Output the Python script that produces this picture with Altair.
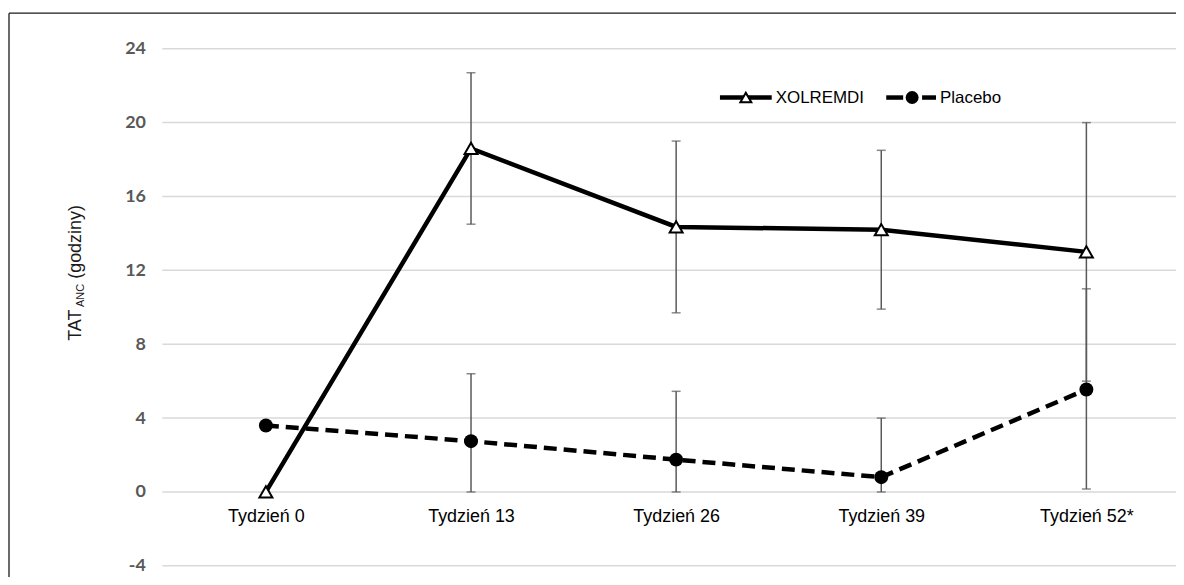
import altair as alt
import pandas as pd

weeks = ["Tydzień 0", "Tydzień 13", "Tydzień 26", "Tydzień 39", "Tydzień 52*"]
series = ["XOLREMDI", "Placebo"]
xol_mean = [0.0, 18.6, 14.35, 14.2, 13.0]
xol_lo = [None, 14.5, 9.7, 9.9, 6.0]
xol_hi = [None, 22.7, 19.0, 18.5, 20.0]
pla_mean = [3.6, 2.75, 1.75, 0.8, 5.55]
pla_lo = [None, 0.0, 0.0, 0.0, 0.16]
pla_hi = [None, 6.4, 5.45, 4.0, 11.0]
y_ticks = [-4, 0, 4, 8, 12, 16, 20, 24]

rows = []
for s, m, lo, hi in [(series[0], xol_mean, xol_lo, xol_hi),
                     (series[1], pla_mean, pla_lo, pla_hi)]:
    for w, v, l, h in zip(weeks, m, lo, hi):
        rows.append({"week": w, "series": s, "value": v, "lo": l, "hi": h})
df = pd.DataFrame(rows)
grid_df = pd.DataFrame({"value": y_ticks})

W = 1018
H = 519.3

x_scale = alt.Scale(type="point", range=[104, 928], padding=0)
x_axis = alt.Axis(title=None, orient="bottom", offset=-74.3, domain=False, ticks=False,
                  labelFontSize=18, labelFont="Liberation Sans", labelColor="#000000",
                  labelPadding=16, labelAngle=0, grid=False)
y_scale = alt.Scale(domain=[-4, 24], nice=False, zero=False)
y_axis = alt.Axis(title=None, values=y_ticks, domain=False, ticks=False,
                  labelFont="Lato", labelFontWeight="bold", labelFontSize=18,
                  labelColor="#595959", labelPadding=17, grid=False,
                  labelExpr="'' + datum.value")


def X():
    return alt.X("week:N", sort=weeks, scale=x_scale, axis=x_axis)


def Y(field):
    return alt.Y(field, type="quantitative", scale=y_scale, axis=y_axis)


grid = alt.Chart(grid_df).mark_rule(color="#d9d9d9", strokeWidth=1.5).encode(
    y=Y("value"), x=alt.value(0), x2=alt.value(W + 20))

base = alt.Chart(df)
with_err = base.transform_filter("isValid(datum.lo)")

err = with_err.mark_rule(color="#595959", strokeWidth=1.5).encode(
    x=X(), y=Y("lo"), y2=alt.Y2("hi"))
cap_lo = with_err.mark_tick(color="#595959", thickness=1.5, size=9, orient="horizontal").encode(
    x=X(), y=Y("lo"))
cap_hi = with_err.mark_tick(color="#595959", thickness=1.5, size=9, orient="horizontal").encode(
    x=X(), y=Y("hi"))

xol = base.transform_filter(alt.datum.series == series[0])
pla = base.transform_filter(alt.datum.series == series[1])

line_xol = xol.mark_line(color="black", strokeWidth=4.5).encode(x=X(), y=Y("value"))
line_pla = pla.mark_line(color="black", strokeWidth=4.5, strokeDash=[13, 7]).encode(
    x=X(), y=Y("value"))
pts_xol = xol.mark_point(shape="triangle-up", filled=True, fill="white", stroke="black",
                         strokeWidth=2, size=169, opacity=1).encode(x=X(), y=Y("value"))
pts_pla = pla.mark_point(shape="circle", filled=True, color="black", size=196,
                         opacity=1).encode(x=X(), y=Y("value"))

one = alt.Chart(pd.DataFrame({"k": [0]}))
leg_y = 49
leg = [
    one.mark_rule(color="black", strokeWidth=4.5).encode(
        x=alt.value(560), x2=alt.value(612), y=alt.value(leg_y)),
    one.mark_point(shape="triangle-up", filled=True, fill="white", stroke="black",
                   strokeWidth=2, size=121, opacity=1).encode(x=alt.value(586), y=alt.value(leg_y)),
    one.mark_text(text=series[0], align="left", baseline="middle", fontSize=17,
                  font="Liberation Sans", color="black").encode(x=alt.value(616), y=alt.value(leg_y)),
    one.mark_rule(color="black", strokeWidth=4.5).encode(
        x=alt.value(727), x2=alt.value(744), y=alt.value(leg_y)),
    one.mark_rule(color="black", strokeWidth=4.5).encode(
        x=alt.value(763), x2=alt.value(777), y=alt.value(leg_y)),
    one.mark_point(shape="circle", filled=True, color="black", size=169,
                   opacity=1).encode(x=alt.value(753), y=alt.value(leg_y)),
    one.mark_text(text=series[1], align="left", baseline="middle", fontSize=17,
                  font="Liberation Sans", color="black").encode(x=alt.value(781), y=alt.value(leg_y)),
]

title_col = "#1a1a1a"
title = [
    one.mark_text(text="TAT", angle=270, align="left", baseline="alphabetic", fontSize=18,
                  font="Liberation Sans", color=title_col).encode(x=alt.value(-81.5), y=alt.value(293.3)),
    one.mark_text(text="ANC", angle=270, align="left", baseline="alphabetic", fontSize=11,
                  font="Liberation Sans", color=title_col).encode(x=alt.value(-78.5), y=alt.value(259.3)),
    one.mark_text(text="(godziny)", angle=270, align="left", baseline="alphabetic", fontSize=18,
                  font="Liberation Sans", color=title_col).encode(x=alt.value(-81.5), y=alt.value(231.0)),
]

frame = [
    one.mark_rule(color="#1a1a1a", strokeWidth=1.3).encode(
        x=alt.value(-154), y=alt.value(-35.7), y2=alt.value(H + 20)),
    one.mark_rule(color="#1a1a1a", strokeWidth=1.3).encode(
        x=alt.value(-154), x2=alt.value(W + 30), y=alt.value(-35.7)),
]

chart = alt.layer(
    grid, err, cap_lo, cap_hi, line_xol, line_pla, pts_xol, pts_pla, *leg, *title, *frame
).properties(
    width=W, height=H,
    padding={"left": 155, "top": 39.7, "right": 0, "bottom": 10},
    autosize=alt.AutoSizeParams(type="none"),
    background="white",
).configure_view(stroke=None)

chart.save("out.html", embed_options={"renderer": "svg", "actions": False})
